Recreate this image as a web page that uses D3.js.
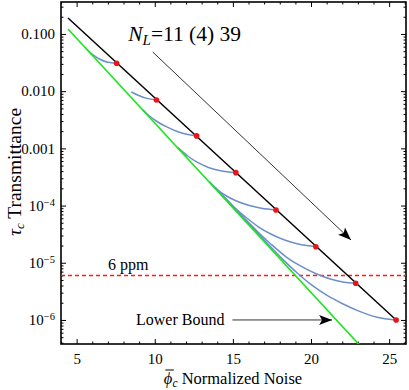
<!DOCTYPE html>
<html lang="en">
<head>
  <meta charset="UTF-8">
  <title>Transmittance vs Normalized Noise</title>
  <script src="https://d3js.org/d3.v7.min.js"></script>
  <style>
    body { margin: 0; background: #fff; }
    svg { display: block; }
    svg text { font-family: "Liberation Serif", "Times New Roman", serif; }
  </style>
</head>
<body>
  <div id="chart"></div>
  <script>
    // number of layers for each red point
    const layers = [11, 15, 19, 23, 27, 31, 35, 39];
    // red points: normalized noise and transmittance
    const dotNoise = [7.56, 10.11, 12.68, 15.19, 17.76, 20.31, 22.86, 25.45];
    const dotTrans = [3.08e-2, 7.02e-3, 1.65e-3, 3.76e-4, 8.38e-5, 1.91e-5, 4.38e-6, 1.0e-6];

    // black line through the red points, and the green lower bound
    const blackLine = [[4.45, 0.190], [25.45, 1.0e-6]];
    const lowerBound = [[4.45, 0.122], [23.6, 2.6e-7]];

    // blue curves, one per layer count
    const curve11 = [[5.66, 5.36e-2], [6.05, 4.30e-2], [6.49, 3.61e-2], [7.00, 3.20e-2], [7.56, 3.08e-2]];
    const curve15 = [[8.50, 9.68e-3], [8.98, 8.38e-3], [9.49, 7.48e-3], [10.11, 7.02e-3]];
    const curve19 = [[9.24, 4.75e-3], [9.68, 3.64e-3], [10.19, 2.89e-3], [10.77, 2.37e-3],
                     [11.40, 1.99e-3], [12.04, 1.76e-3], [12.68, 1.65e-3]];
    const curve23 = [[11.47, 1.04e-3], [12.11, 7.36e-4], [12.74, 5.67e-4], [13.44, 4.64e-4],
                     [14.21, 4.06e-4], [15.19, 3.76e-4]];
    const curve27 = [[13.51, 2.61e-4], [14.02, 1.89e-4], [14.59, 1.47e-4], [15.23, 1.20e-4],
                     [16.00, 1.01e-4], [16.82, 8.97e-5], [17.76, 8.38e-5]];
    const curve31 = [[13.76, 2.20e-4], [14.40, 1.44e-4], [15.10, 9.26e-5], [15.87, 6.12e-5],
                     [16.63, 4.26e-5], [17.46, 3.15e-5], [18.36, 2.47e-5], [19.31, 2.08e-5], [20.31, 1.91e-5]];
    const curve35 = [[13.89, 2.03e-4], [14.78, 1.13e-4], [15.74, 6.00e-5], [16.57, 3.53e-5],
                     [17.46, 2.09e-5], [18.42, 1.26e-5], [19.38, 8.62e-6], [20.33, 6.42e-6],
                     [21.29, 5.15e-6], [22.12, 4.56e-6], [22.86, 4.38e-6]];
    const curve39 = [[14.02, 1.86e-4], [15.10, 8.97e-5], [16.19, 4.31e-5], [17.21, 2.18e-5],
                     [18.16, 1.17e-5], [19.12, 6.63e-6], [20.08, 4.01e-6], [21.03, 2.68e-6],
                     [21.99, 1.94e-6], [22.95, 1.47e-6], [23.90, 1.18e-6], [24.73, 1.05e-6], [25.45, 1.0e-6]];
    const blueCurves = [curve11, curve15, curve19, curve23, curve27, curve31, curve35, curve39];

    const limitPpm = 6e-6;

    // axes
    const xTicks = [5, 10, 15, 20, 25];
    const yTicks = [1e-1, 1e-2, 1e-3, 1e-4, 1e-5, 1e-6];
    const yTickLabels = ["0.100", "0.010", "0.001", "10^\u22124", "10^\u22125", "10^\u22126"];

    const w = 409, h = 390;
    const pLeft = 61, pRight = 406, pTop = 2, pBottom = 344;
    const serif = "'Liberation Serif', 'Times New Roman', serif";

    const svg = d3.select("#chart").append("svg")
      .attr("width", w).attr("height", h);

    const x = d3.scaleLinear().domain([4.0, 26.08]).range([pLeft, pRight]);
    const y = d3.scaleLog().domain([3.8e-7, 0.362]).range([pBottom, pTop]);

    svg.append("clipPath").attr("id", "clip")
      .append("rect").attr("x", pLeft).attr("y", pTop)
      .attr("width", pRight - pLeft).attr("height", pBottom - pTop);

    const xMinor = d3.range(4, 27).filter(v => !xTicks.includes(v));
    const yMinor = [];
    for (let e = -7; e <= 0; e++) {
      for (let k = 2; k <= 9; k++) {
        const v = k * Math.pow(10, e);
        if (v > 3.8e-7 && v < 0.362) yMinor.push(v);
      }
    }

    // ticks point inward on all four sides
    svg.append("g").attr("transform", `translate(0,${pBottom})`)
      .call(d3.axisBottom(x).tickValues(xTicks).tickSize(-5).tickPadding(9).tickFormat(d3.format("d")))
      .call(g => g.select(".domain").remove());
    svg.append("g").attr("transform", `translate(0,${pBottom})`)
      .call(d3.axisBottom(x).tickValues(xMinor).tickSize(-2.5).tickFormat(""))
      .call(g => g.select(".domain").remove());
    svg.append("g").attr("transform", `translate(0,${pTop})`)
      .call(d3.axisTop(x).tickValues(xTicks).tickSize(-5).tickFormat(""))
      .call(g => g.select(".domain").remove());
    svg.append("g").attr("transform", `translate(0,${pTop})`)
      .call(d3.axisTop(x).tickValues(xMinor).tickSize(-2.5).tickFormat(""))
      .call(g => g.select(".domain").remove());

    const yAxisG = svg.append("g").attr("transform", `translate(${pLeft},0)`)
      .call(d3.axisLeft(y).tickValues(yTicks).tickSize(-5).tickPadding(6).tickFormat((d, i) => yTickLabels[i]))
      .call(g => g.select(".domain").remove());
    svg.append("g").attr("transform", `translate(${pLeft},0)`)
      .call(d3.axisLeft(y).tickValues(yMinor).tickSize(-2.5).tickFormat(""))
      .call(g => g.select(".domain").remove());
    svg.append("g").attr("transform", `translate(${pRight},0)`)
      .call(d3.axisRight(y).tickValues(yTicks).tickSize(-5).tickFormat(""))
      .call(g => g.select(".domain").remove());
    svg.append("g").attr("transform", `translate(${pRight},0)`)
      .call(d3.axisRight(y).tickValues(yMinor).tickSize(-2.5).tickFormat(""))
      .call(g => g.select(".domain").remove());

    svg.selectAll("g").attr("font-family", serif).attr("font-size", 15);
    svg.selectAll(".tick line").attr("stroke", "#000").attr("stroke-width", 1);
    svg.selectAll(".tick text").attr("fill", "#000");

    // exponent labels: 10 with a raised exponent
    yAxisG.selectAll(".tick text").each(function(d, i) {
      const lab = yTickLabels[i];
      if (lab.indexOf("^") < 0) return;
      const parts = lab.split("^");
      const t = d3.select(this).text("");
      t.append("tspan").text(parts[0]);
      t.append("tspan").attr("font-size", 10.5).attr("dy", "-0.5em").text(parts[1]);
    });

    // frame
    svg.append("rect")
      .attr("x", pLeft).attr("y", pTop)
      .attr("width", pRight - pLeft).attr("height", pBottom - pTop)
      .attr("fill", "none").attr("stroke", "#000").attr("stroke-width", 1.6);

    const plot = svg.append("g").attr("clip-path", "url(#clip)");
    const line = d3.line().x(d => x(d[0])).y(d => y(d[1]));

    // 6 ppm limit
    const yLim = Math.round(y(limitPpm)) + 0.5;
    plot.append("path")
      .attr("d", line([[4.0, limitPpm], [26.08, limitPpm]]).replace(/,[\d.]+/g, "," + yLim))
      .attr("fill", "none")
      .attr("stroke", "#ff1a1a").attr("stroke-width", 1.4)
      .attr("stroke-dasharray", "4,3");

    plot.selectAll(".blue")
      .data(blueCurves)
      .enter().append("path")
      .attr("class", "blue")
      .attr("d", line.curve(d3.curveMonotoneX))
      .attr("fill", "none")
      .attr("stroke", "#6b8fc8")
      .attr("stroke-width", 1.5);

    const straight = d3.line().x(d => x(d[0])).y(d => y(d[1]));
    plot.append("path").attr("d", straight(lowerBound))
      .attr("fill", "none").attr("stroke", "#19e619").attr("stroke-width", 1.6);
    plot.append("path").attr("d", straight(blackLine))
      .attr("fill", "none").attr("stroke", "#000").attr("stroke-width", 1.5);

    plot.selectAll(".dot")
      .data(layers)
      .enter().append("circle")
      .attr("class", "dot")
      .attr("cx", (d, i) => x(dotNoise[i]))
      .attr("cy", (d, i) => y(dotTrans[i]))
      .attr("r", 2.8)
      .attr("fill", "#e8141a");

    // arrows
    const defs = svg.append("defs");
    defs.append("marker").attr("id", "head")
      .attr("viewBox", "-14 -6 16 12")
      .attr("markerUnits", "userSpaceOnUse")
      .attr("markerWidth", 16).attr("markerHeight", 12)
      .attr("refX", 0).attr("refY", 0)
      .attr("orient", "auto")
      .append("path").attr("d", "M0,0 L-13,-5 L-10,0 L-13,5 Z").attr("fill", "#000");

    const arrow = (x1, t1, x2, t2) => svg.append("line")
      .attr("x1", x(x1)).attr("y1", y(t1)).attr("x2", x(x2)).attr("y2", y(t2))
      .attr("stroke", "#333").attr("stroke-width", 1)
      .attr("marker-end", "url(#head)");
    arrow(9.87, 4.84e-2, 22.56, 2.5e-5);
    arrow(14.97, 1.0e-6, 21.35, 1.0e-6);

    // annotations
    const nl = svg.append("text")
      .attr("x", x(8.3)).attr("y", y(0.075))
      .attr("font-family", serif).attr("font-size", 21.5).attr("fill", "#000");
    nl.append("tspan").attr("font-style", "italic").text("N");
    nl.append("tspan").attr("font-style", "italic").attr("font-size", 15).attr("dy", 4).text("L");
    nl.append("tspan").attr("dy", -4).text("=11 (4) 39");

    svg.append("text")
      .attr("x", x(7.0)).attr("y", yLim - 6)
      .attr("font-family", serif).attr("font-size", 16).text("6 ppm");

    svg.append("text")
      .attr("x", x(8.8)).attr("y", y(1.0e-6) + 5)
      .attr("font-family", serif).attr("font-size", 16).text("Lower Bound");

    // axis titles
    const xt = svg.append("text")
      .attr("x", 233).attr("y", 384)
      .attr("text-anchor", "middle")
      .attr("font-family", serif).attr("font-size", 16.5);
    const phi = xt.append("tspan").attr("font-style", "italic").text("\u03d5");
    xt.append("tspan").attr("font-style", "italic").attr("font-size", 11.5).attr("dy", 3).text("c");
    xt.append("tspan").attr("dy", -3).text(" Normalized Noise");
    const pb = phi.node().getBBox();
    svg.append("line")
      .attr("x1", pb.x + 1.5).attr("x2", pb.x + pb.width + 1)
      .attr("y1", pb.y + 1).attr("y2", pb.y + 1)
      .attr("stroke", "#000").attr("stroke-width", 1);

    const yt = svg.append("text")
      .attr("transform", `translate(21,172) rotate(-90)`)
      .attr("text-anchor", "middle")
      .attr("font-family", serif).attr("font-size", 19.5);
    yt.append("tspan").attr("font-style", "italic").text("\u03c4");
    yt.append("tspan").attr("font-style", "italic").attr("font-size", 13).attr("dy", 3).text("c");
    yt.append("tspan").attr("dy", -3).text(" Transmittance");
  </script>
</body>
</html>
